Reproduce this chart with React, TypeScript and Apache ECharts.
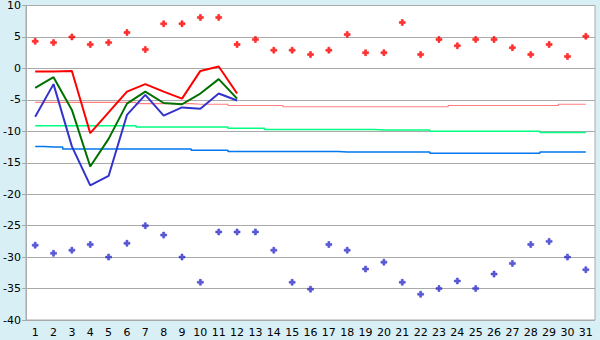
import React, { useEffect, useRef } from "react";
import * as echarts from "echarts";

const days = ["1","2","3","4","5","6","7","8","9","10","11","12","13","14","15","16","17","18","19","20","21","22","23","24","25","26","27","28","29","30","31"];

const recordHigh = [4.3,4.1,5.0,3.8,4.1,5.7,3.0,7.1,7.1,8.1,8.1,3.8,4.6,2.9,2.9,2.2,2.9,5.4,2.5,2.5,7.3,2.2,4.6,3.6,4.6,4.6,3.3,2.2,3.8,1.9,5.1];
const recordLow = [-28.1,-29.4,-28.9,-28.0,-30.0,-27.8,-25.0,-26.5,-30.0,-34.0,-26.0,-26.0,-26.0,-28.9,-34.0,-35.1,-28.0,-28.9,-31.9,-30.8,-34.0,-35.9,-35.0,-33.8,-35.0,-32.7,-31.0,-28.0,-27.5,-30.0,-32.0];

const dayMax = [-0.5,-0.5,-0.4,-10.3,-7.0,-3.7,-2.5,-3.7,-4.8,-0.4,0.3,-4.0];
const dayMean = [-3.1,-1.4,-6.6,-15.6,-11.2,-5.6,-3.7,-5.5,-5.7,-4.0,-1.7,-4.8];
const dayMin = [-7.7,-2.5,-12.4,-18.6,-17.1,-7.4,-4.2,-7.5,-6.2,-6.4,-4.0,-5.1];

const normalHigh = [-5.4,-5.4,-5.4,-5.4,-5.4,-5.4,-5.6,-5.6,-5.6,-5.7,-5.7,-5.9,-5.9,-5.9,-6.1,-6.1,-6.1,-6.1,-6.1,-6.1,-6.1,-6.1,-6.1,-5.9,-5.9,-5.9,-5.9,-5.9,-5.9,-5.7,-5.7];
const normalMean = [-9.1,-9.1,-9.1,-9.1,-9.1,-9.1,-9.3,-9.3,-9.3,-9.3,-9.3,-9.5,-9.5,-9.7,-9.7,-9.7,-9.7,-9.7,-9.7,-9.8,-9.8,-9.8,-10.0,-10.0,-10.0,-10.0,-10.0,-10.0,-10.2,-10.2,-10.2];
const normalLow = [-12.4,-12.5,-12.8,-12.8,-12.8,-12.8,-12.8,-12.8,-12.8,-13.0,-13.0,-13.2,-13.2,-13.2,-13.2,-13.2,-13.2,-13.3,-13.3,-13.3,-13.3,-13.3,-13.5,-13.5,-13.5,-13.5,-13.5,-13.5,-13.3,-13.3,-13.3];

const plus = "path://M2,0H4V2H6V4H4V6H2V4H0V2H2Z";
const font = "DejaVu Sans";

export default function App() {
  const ref = useRef<HTMLDivElement>(null);
  useEffect(() => {
    if (!ref.current) return;
    const chart = echarts.init(ref.current, null, { renderer: "svg" });
    const stepLine = (data: number[], color: string, width: number) => ({
      type: "line",
      data,
      step: "middle",
      symbol: "none",
      lineStyle: { color, width },
      z: 2,
    });
    const dayLine = (data: number[], color: string) => ({
      type: "line",
      data,
      symbol: "none",
      lineStyle: { color, width: 2 },
      z: 3,
    });
    const marker = (data: number[], color: string) => ({
      type: "scatter",
      data,
      symbol: plus,
      symbolSize: 6,
      itemStyle: { color, borderColor: color, borderWidth: 0.6 },
      z: 4,
    });
    chart.setOption({
      animation: false,
      backgroundColor: "#D9EFF6",
      grid: {
        left: 26,
        right: 5,
        top: 5,
        bottom: 20,
        show: true,
        backgroundColor: "#ffffff",
        borderColor: "#AAAAAA",
        borderWidth: 1,
      },
      xAxis: {
        type: "category",
        data: days,
        boundaryGap: true,
        axisLine: { lineStyle: { color: "#AAAAAA", width: 1 } },
        axisTick: { alignWithLabel: true, length: 5, lineStyle: { color: "#222" } },
        axisLabel: { interval: 0, margin: 7, color: "#000", fontFamily: font, fontSize: 11 },
        splitLine: { show: false },
      },
      yAxis: {
        type: "value",
        min: -40,
        max: 10,
        interval: 5,
        axisLine: { show: true, lineStyle: { color: "#AAAAAA", width: 1 } },
        axisTick: { show: true, length: 4, lineStyle: { color: "#AAAAAA" } },
        axisLabel: { margin: 5, color: "#000", fontFamily: font, fontSize: 11 },
        splitLine: { show: true, lineStyle: { color: "#AAAAAA", width: 1 } },
      },
      series: [
        stepLine(normalHigh, "#FF8080", 1.2),
        stepLine(normalMean, "#00FF80", 1.5),
        stepLine(normalLow, "#0077EE", 1.5),
        dayLine(dayMax, "#FF0000"),
        dayLine(dayMean, "#007000"),
        dayLine(dayMin, "#3333CC"),
        marker(recordHigh, "#FF0000"),
        marker(recordLow, "#3333CC"),
      ],
    });
    return () => chart.dispose();
  }, []);
  return <div ref={ref} style={{ position: "fixed", left: 0, top: 0, width: 600, height: 340 }} />;
}
